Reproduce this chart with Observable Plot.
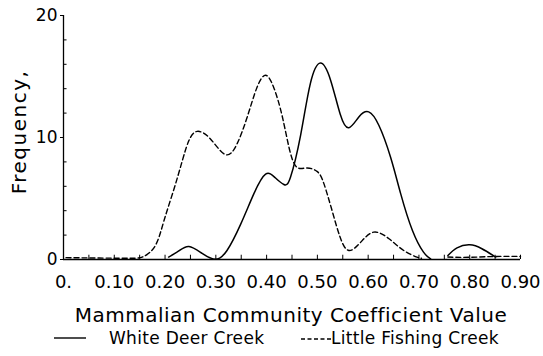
<!DOCTYPE html>
<html>
<head>
<meta charset="utf-8">
<script src="https://cdn.jsdelivr.net/npm/d3@7"></script>
<script src="https://cdn.jsdelivr.net/npm/@observablehq/plot@0.6"></script>
<style>
  html, body { margin: 0; padding: 0; background: #fff; }
  #wrap { position: relative; width: 543px; height: 356px; font-family: "DejaVu Sans", sans-serif; color: #000; }
  #chart { position: absolute; left: 0; top: 0; }
  #ylabel { position: absolute; left: 19px; top: 132px; transform: translate(-50%, -50%) rotate(-90deg); font-size: 20px; letter-spacing: 1.5px; white-space: nowrap; }
  #xlabel { position: absolute; left: 291px; top: 315px; transform: translate(-50%, -50%); font-size: 20px; letter-spacing: 0.5px; white-space: nowrap; }
  .leg { position: absolute; top: 338px; transform: translateY(-50%); font-size: 17px; letter-spacing: 0.3px; white-space: nowrap; }
  .legline { position: absolute; top: 331px; }
</style>
</head>
<body>
<div id="wrap">
  <div id="chart"></div>
  <div id="ylabel"></div>
  <div id="xlabel"></div>
  <svg class="legline" style="left:53px" width="34" height="14"><line x1="1" x2="33" y1="7" y2="7" stroke="#000" stroke-width="1.4"/></svg>
  <div class="leg" id="leg1" style="left:109px"></div>
  <svg class="legline" style="left:300px" width="32" height="14"><line x1="1" x2="31" y1="8" y2="8" stroke="#000" stroke-width="1.4" stroke-dasharray="4,2.5"/></svg>
  <div class="leg" id="leg2" style="left:331px"></div>
</div>
<script>
// ---- Data ----
const seriesNames = ["White Deer Creek", "Little Fishing Creek"];
const yTitle = "Frequency,";
const xTitle = "Mammalian Community Coefficient Value";

const xTicks = [0, 0.1, 0.2, 0.3, 0.4, 0.5, 0.6, 0.7, 0.8, 0.9];
const xTickLabels = ["0.", "0.10", "0.20", "0.30", "0.40", "0.50", "0.60", "0.70", "0.80", "0.90"];
const xMinorTicks = [0.05, 0.1, 0.15, 0.2, 0.25, 0.3, 0.35, 0.4, 0.45, 0.5, 0.55, 0.6, 0.65, 0.7, 0.75, 0.8, 0.85, 0.9];
const yTicks = [0, 10, 20];
const yTickLabels = ["0", "10", "20"];
const yMinorTicks = [2, 4, 6, 8, 12, 14, 16, 18];

// White Deer Creek (solid), two segments: [x, frequency]
const whiteDeerMain = [
  [0.207, 0.2], [0.227, 0.7], [0.247, 1.07], [0.273, 0.5], [0.299, 0.02], [0.322, 0.74],
  [0.349, 2.9], [0.375, 5.4], [0.398, 7.0], [0.417, 6.7], [0.434, 6.15], [0.447, 6.75],
  [0.467, 10.2], [0.486, 14.4], [0.506, 16.1], [0.526, 14.7], [0.545, 11.9], [0.562, 10.8],
  [0.582, 11.7], [0.601, 12.1], [0.621, 11.0], [0.644, 8.4], [0.664, 5.4], [0.687, 2.4],
  [0.709, 0.6], [0.723, 0.05]
];
const whiteDeerTail = [
  [0.757, 0.33], [0.775, 0.96], [0.800, 1.2], [0.824, 0.88], [0.851, 0.2]
];

// Little Fishing Creek (dashed), two segments
const littleFishingMain = [
  [0.005, 0.15], [0.07, 0.12], [0.132, 0.1], [0.158, 0.25], [0.181, 1.15], [0.198, 3.2],
  [0.217, 5.7], [0.234, 8.1], [0.247, 9.75], [0.263, 10.5], [0.289, 9.9], [0.319, 8.6],
  [0.342, 9.5], [0.362, 11.7], [0.381, 14.1], [0.398, 15.1], [0.414, 14.1], [0.431, 11.7],
  [0.447, 8.7], [0.462, 7.5], [0.480, 7.5], [0.500, 7.2], [0.513, 6.2], [0.529, 4.0],
  [0.545, 1.8], [0.562, 0.74], [0.585, 1.4], [0.611, 2.24], [0.641, 1.7], [0.670, 0.74],
  [0.696, 0.2], [0.705, 0.1]
];
const littleFishingTail = [
  [0.757, 0.2], [0.80, 0.18], [0.85, 0.25], [0.90, 0.25]
];

// ---- Build ----
document.getElementById("ylabel").textContent = yTitle;
document.getElementById("xlabel").textContent = xTitle;
document.getElementById("leg1").textContent = seriesNames[0];
document.getElementById("leg2").textContent = seriesNames[1];

const solidStyle = { x: d => d[0], y: d => d[1], stroke: "#000", strokeWidth: 1.5, curve: "natural" };
const dashStyle = { ...solidStyle, strokeWidth: 1.4, strokeDasharray: "5,3" };

const chart = Plot.plot({
  width: 543,
  height: 300,
  marginLeft: 63,
  marginRight: 23,
  marginTop: 15,
  marginBottom: 41,
  style: { fontFamily: "DejaVu Sans, sans-serif", background: "#fff", color: "#000" },
  x: { domain: [0, 0.9] },
  y: { domain: [0, 20] },
  marks: [
    Plot.axisX({ ticks: xTicks, tickFormat: d => xTickLabels[xTicks.indexOf(d)], tickSize: 0, tickPadding: 16, fontSize: 18, label: null }),
    Plot.axisY({ ticks: yTicks, tickFormat: d => yTickLabels[yTicks.indexOf(d)], tickSize: 3, tickPadding: 3, fontSize: 17, label: null }),
    Plot.ruleX(xMinorTicks, { x: d => d, y1: 0, y2: 0.35, stroke: "#000", strokeWidth: 1 }),
    Plot.ruleY(yMinorTicks, { y: d => d, x1: 0, x2: 0.007, stroke: "#000", strokeWidth: 1 }),
    Plot.ruleY([0], { stroke: "#000", strokeWidth: 1.3 }),
    Plot.ruleX([0], { stroke: "#000", strokeWidth: 1.3 }),
    Plot.line(littleFishingMain, dashStyle),
    Plot.line(littleFishingTail, dashStyle),
    Plot.line(whiteDeerMain, solidStyle),
    Plot.line(whiteDeerTail, solidStyle)
  ]
});
document.getElementById("chart").appendChild(chart);
</script>
</body>
</html>
